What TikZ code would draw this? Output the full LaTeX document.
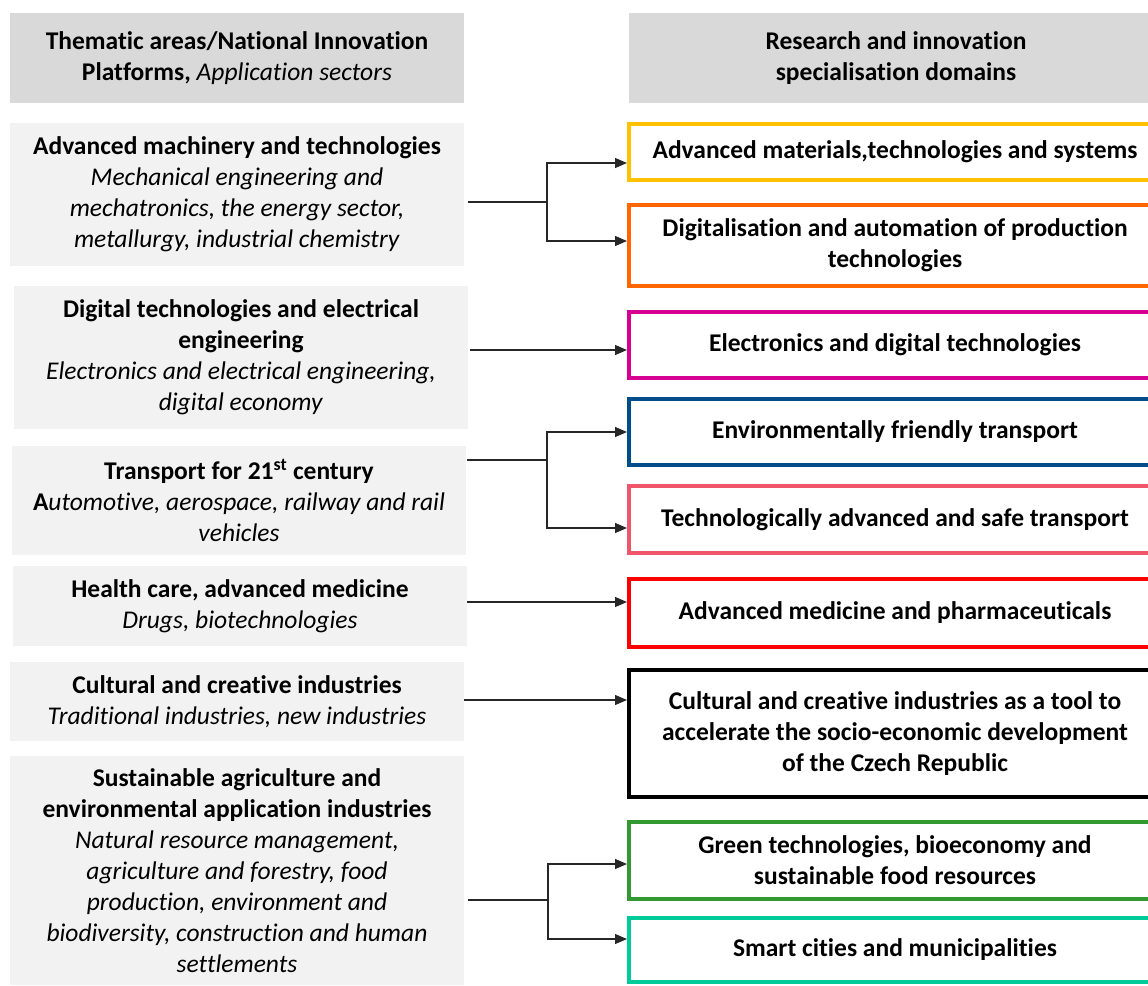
\documentclass[tikz,border=0pt]{standalone}
\usepackage{fontspec}
\setmainfont{Carlito}[Ligatures={NoCommon,NoContextual,NoRequired},Contextuals=NoAlternate,RawFeature={-ccmp;-dlig}]
\usetikzlibrary{arrows.meta,calc}
\definecolor{chdr}{HTML}{D9D9D9}
\definecolor{cfill}{HTML}{F2F2F2}
\definecolor{cyel}{HTML}{FFC000}
\definecolor{cora}{HTML}{FF6600}
\definecolor{cmag}{HTML}{D60093}
\definecolor{cblu}{HTML}{004D8C}
\definecolor{ccor}{HTML}{F0566A}
\definecolor{cred}{HTML}{FF0000}
\definecolor{cgrn}{HTML}{339933}
\definecolor{ctea}{HTML}{00CC99}
\begin{document}
\begin{tikzpicture}[x=1pt,y=-1pt,
 every node/.style={font=\fontsize{25.5}{31}\selectfont, align=center, inner sep=0pt},
 hbox/.style={fill=chdr, minimum width=454pt, minimum height=90pt},
 leftbox/.style={fill=cfill, minimum width=454pt, minimum height=#1},
 rbox/.style={draw=#1, line width=4pt, fill=white, minimum width=532pt, font=\fontsize{25.5}{31}\selectfont\bfseries},
 arr/.style={line width=1.2pt, draw=black!85, -{Triangle[length=12pt,width=10pt]}},
 link/.style={line width=1.2pt, draw=black!85}]
\useasboundingbox (0,0) rectangle (1148,985);

% headers
\node[hbox] (h1) at (237,58) {\textbf{Thematic areas/National Innovation}\\\textbf{Platforms,} \textit{Application sectors}};
\node[hbox, minimum width=534pt] (h2) at (896,58) {\textbf{Research and innovation}\\\textbf{specialisation domains}};

% left boxes
\node[leftbox=143pt] (L1) at (237,194.5) {\textbf{Advanced machinery and technologies}\\\textit{Mechanical engineering and}\\\textit{mechatronics, the energy sector,}\\\textit{metallurgy, industrial chemistry}};
\node[leftbox=143pt] (L2) at (241,357.5) {\textbf{Digital technologies and electrical}\\\textbf{engineering}\\\textit{Electronics and electrical engineering,}\\\textit{digital economy}};
\node[leftbox=109pt] (L3) at (239,500.5) {\textbf{Transport for 21\textsuperscript{st} century}\\\textbf{A}\textit{utomotive, aerospace, railway and rail}\\\textit{vehicles}};
\node[leftbox=80pt] (L4) at (240,606) {\textbf{Health care, advanced medicine}\\\textit{Drugs, biotechnologies}};
\node[leftbox=79pt] (L5) at (237,701.5) {\textbf{Cultural and creative industries}\\\textit{Traditional industries, new industries}};
\node[leftbox=229pt] (L6) at (237,870.5) {\textbf{Sustainable agriculture and}\\\textbf{environmental application industries}\\\textit{Natural resource management,}\\\textit{agriculture and forestry, food}\\\textit{production, environment and}\\\textit{biodiversity, construction and human}\\\textit{settlements}};

% right boxes
\node[rbox=cyel, minimum height=56pt] (R1) at (895,152) {Advanced materials,technologies and systems};
\node[rbox=cora, minimum height=81pt] (R2) at (895,245.5) {Digitalisation and automation of production\\technologies};
\node[rbox=cmag, minimum height=66pt] (R3) at (895,345) {Electronics and digital technologies};
\node[rbox=cblu, minimum height=66pt] (R4) at (895,432) {Environmentally friendly transport};
\node[rbox=ccor, minimum height=67pt] (R5) at (895,519.5) {Technologically advanced and safe transport};
\node[rbox=cred, minimum height=68pt] (R6) at (895,613) {Advanced medicine and pharmaceuticals};
\node[rbox=black, minimum height=127pt] (R7) at (895,733.5) {Cultural and creative industries as a tool to\\accelerate the socio-economic development\\of the Czech Republic};
\node[rbox=cgrn, minimum height=77pt] (R8) at (895,860.5) {Green technologies, bioeconomy and\\sustainable food resources};
\node[rbox=ctea, minimum height=64pt] (R9) at (895,950) {Smart cities and municipalities};

% connectors
\coordinate (j1) at (547,202);
\draw[link] ($(L1.east |- j1)+(4,0)$) -- (j1);
\draw[arr] (j1) |- ([yshift=-11pt]R1.west);
\draw[arr] (j1) |- ([yshift=4.5pt]R2.west);

\coordinate (a3) at ([yshift=-5pt]R3.west);
\draw[arr] ($(L2.east |- a3)+(2,0)$) -- (a3);

\coordinate (j2) at (547,460);
\draw[link] ($(L3.east |- j2)+(1,0)$) -- (j2);
\draw[arr] (j2) |- (R4.west);
\draw[arr] (j2) |- ([yshift=-8.5pt]R5.west);

\coordinate (a6) at ([yshift=11pt]R6.west);
\draw[arr] (L4.east |- a6) -- (a6);

\coordinate (a7) at ([yshift=33.5pt]R7.west);
\draw[arr] (L5.east |- a7) -- (a7);

\coordinate (j3) at (548,900);
\draw[link] ($(L6.east |- j3)+(4,0)$) -- (j3);
\draw[arr] (j3) |- ([yshift=-3.5pt]R8.west);
\draw[arr] (j3) |- ([yshift=11pt]R9.west);
\end{tikzpicture}
\end{document}
